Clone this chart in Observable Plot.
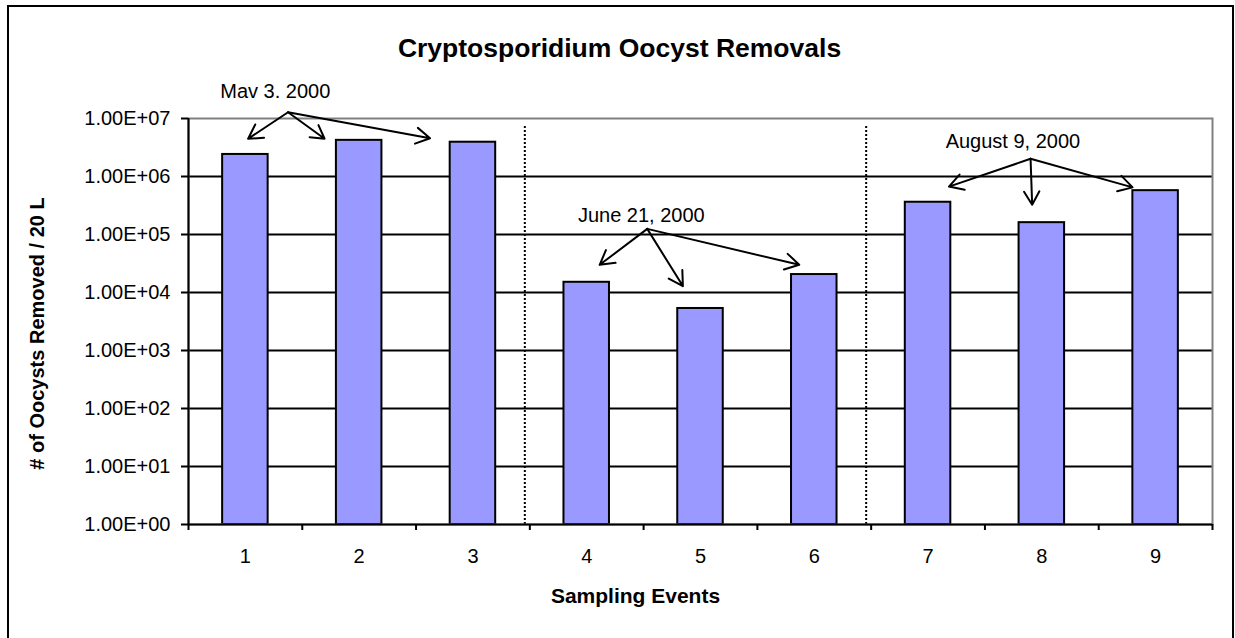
<!DOCTYPE html>
<html>
<head>
<meta charset="utf-8">
<script src="https://cdn.jsdelivr.net/npm/d3@7"></script>
<script src="https://cdn.jsdelivr.net/npm/@observablehq/plot@0.6"></script>
<style>
  html, body { margin: 0; padding: 0; background: #fff; }
  #wrap { position: relative; width: 1235px; height: 638px; overflow: hidden; }
  #border { position: absolute; left: 7px; top: 5px; width: 1227px; height: 700px;
            border: 2px solid #000; box-sizing: border-box; pointer-events: none; }
  #chart { position: absolute; left: 0; top: 0; }
</style>
</head>
<body>
<div id="wrap"><div id="chart"></div><div id="border"></div></div>
<script>
// ---- data ----
const events = [1, 2, 3, 4, 5, 6, 7, 8, 9];
const removals = [2.4e6, 4.2e6, 3.9e6, 1.5e4, 5.3e3, 2.04e4, 3.6e5, 1.6e5, 5.7e5];
const yTicks = [1, 10, 100, 1e3, 1e4, 1e5, 1e6, 1e7];
const yTickLabels = ["1.00E+00", "1.00E+01", "1.00E+02", "1.00E+03", "1.00E+04", "1.00E+05", "1.00E+06", "1.00E+07"];
const xTickLabels = ["1", "2", "3", "4", "5", "6", "7", "8", "9"];
const categoryEdges = [0.5, 1.5, 2.5, 3.5, 4.5, 5.5, 6.5, 7.5, 8.5, 9.5];
const dividerEvents = [3.456, 6.456];
const dividerTop = 7.6e6;

// annotation labels (anchored in data units: event, value)
const annLabels = ["Mav 3. 2000", "June 21, 2000", "August 9, 2000"];
const annLabelX = [1.263, 4.48, 7.746];
const annLabelY = [2.92e7, 2.13e5, 4.06e6];
// arrows: from origin to tip (data units)
const arrowFromX = [1.375, 1.375, 1.375, 4.532, 4.532, 4.532, 7.901, 7.901, 7.901];
const arrowFromY = [1.28e7, 1.28e7, 1.28e7, 1.25e5, 1.25e5, 1.25e5, 2.02e6, 2.02e6, 2.02e6];
const arrowToX = [1.024, 1.696, 2.623, 4.114, 4.845, 5.868, 7.184, 7.915, 8.798];
const arrowToY = [4.47e6, 4.47e6, 4.57e6, 3.0e4, 1.29e4, 3.0e4, 6.7e5, 3.25e5, 6.5e5];

const titleText = "Cryptosporidium Oocyst Removals";
const xTitle = "Sampling Events";
const yTitle = "# of Oocysts Removed / 20 L";

// ---- tables built from arrays ----
const bars = events.map((e, i) => ({event: e, value: removals[i]}));
const labels = annLabels.map((t, i) => ({text: t, x: annLabelX[i], y: annLabelY[i]}));
const arrows = arrowFromX.map((_, i) => ({x1: arrowFromX[i], y1: arrowFromY[i], x2: arrowToX[i], y2: arrowToY[i]}));
const gridValues = yTicks.slice(1, -1);
const halfBar = 0.2;

const font = "'Liberation Sans', Arial, sans-serif";

const plot = Plot.plot({
  width: 1235,
  height: 638,
  marginLeft: 188,
  marginRight: 23,
  marginTop: 118,
  marginBottom: 114,
  style: {fontFamily: font, fontSize: "20px", color: "#000", background: "transparent"},
  x: {type: "linear", domain: [0.5, 9.5]},
  y: {type: "log", domain: [1, 1e7]},
  marks: [
    Plot.ruleY(gridValues, {stroke: "#000", strokeWidth: 2}),
    Plot.ruleX(dividerEvents, {y1: 1, y2: dividerTop, stroke: "#000", strokeWidth: 2, strokeDasharray: "2,2"}),
    Plot.rect(bars, {x1: d => d.event - halfBar, x2: d => d.event + halfBar, y1: 1, y2: "value",
                     fill: "#9999ff", stroke: "#000", strokeWidth: 2}),
    Plot.frame({stroke: "#808080", strokeWidth: 2}),
    Plot.ruleX([0.5], {stroke: "#000", strokeWidth: 2}),
    Plot.ruleY([1], {stroke: "#000", strokeWidth: 2}),
    Plot.axisY({ticks: yTicks, tickFormat: d => yTickLabels[yTicks.indexOf(d)], tickSize: 7, tickPadding: 11,
                strokeWidth: 2, label: null, fontSize: 20}),
    Plot.axisX({ticks: categoryEdges, tickFormat: () => "", tickSize: 6, strokeWidth: 2, label: null}),
    Plot.axisX({ticks: events, tickFormat: d => xTickLabels[events.indexOf(d)], tickSize: 0, tickPadding: 24,
                label: null, fontSize: 20}),
    Plot.arrow(arrows, {x1: "x1", y1: "y1", x2: "x2", y2: "y2", stroke: "#000", strokeWidth: 2,
                        headLength: 12, headAngle: 60}),
    Plot.text(labels, {x: "x", y: "y", text: "text", fontSize: 20, fill: "#000"}),
    Plot.text([titleText], {frameAnchor: "top", dx: -81, dy: -80, fontSize: 26.5, fontWeight: "bold", fill: "#000"}),
    Plot.text([xTitle], {frameAnchor: "bottom", dx: -65, dy: 78, fontSize: 21, fontWeight: "bold", fill: "#000"}),
    Plot.text([yTitle], {frameAnchor: "left", textAnchor: "middle", dx: -151, dy: 12, rotate: -90, fontSize: 20,
                         fontWeight: "bold", fill: "#000"})
  ]
});
document.getElementById("chart").appendChild(plot);
</script>
</body>
</html>
